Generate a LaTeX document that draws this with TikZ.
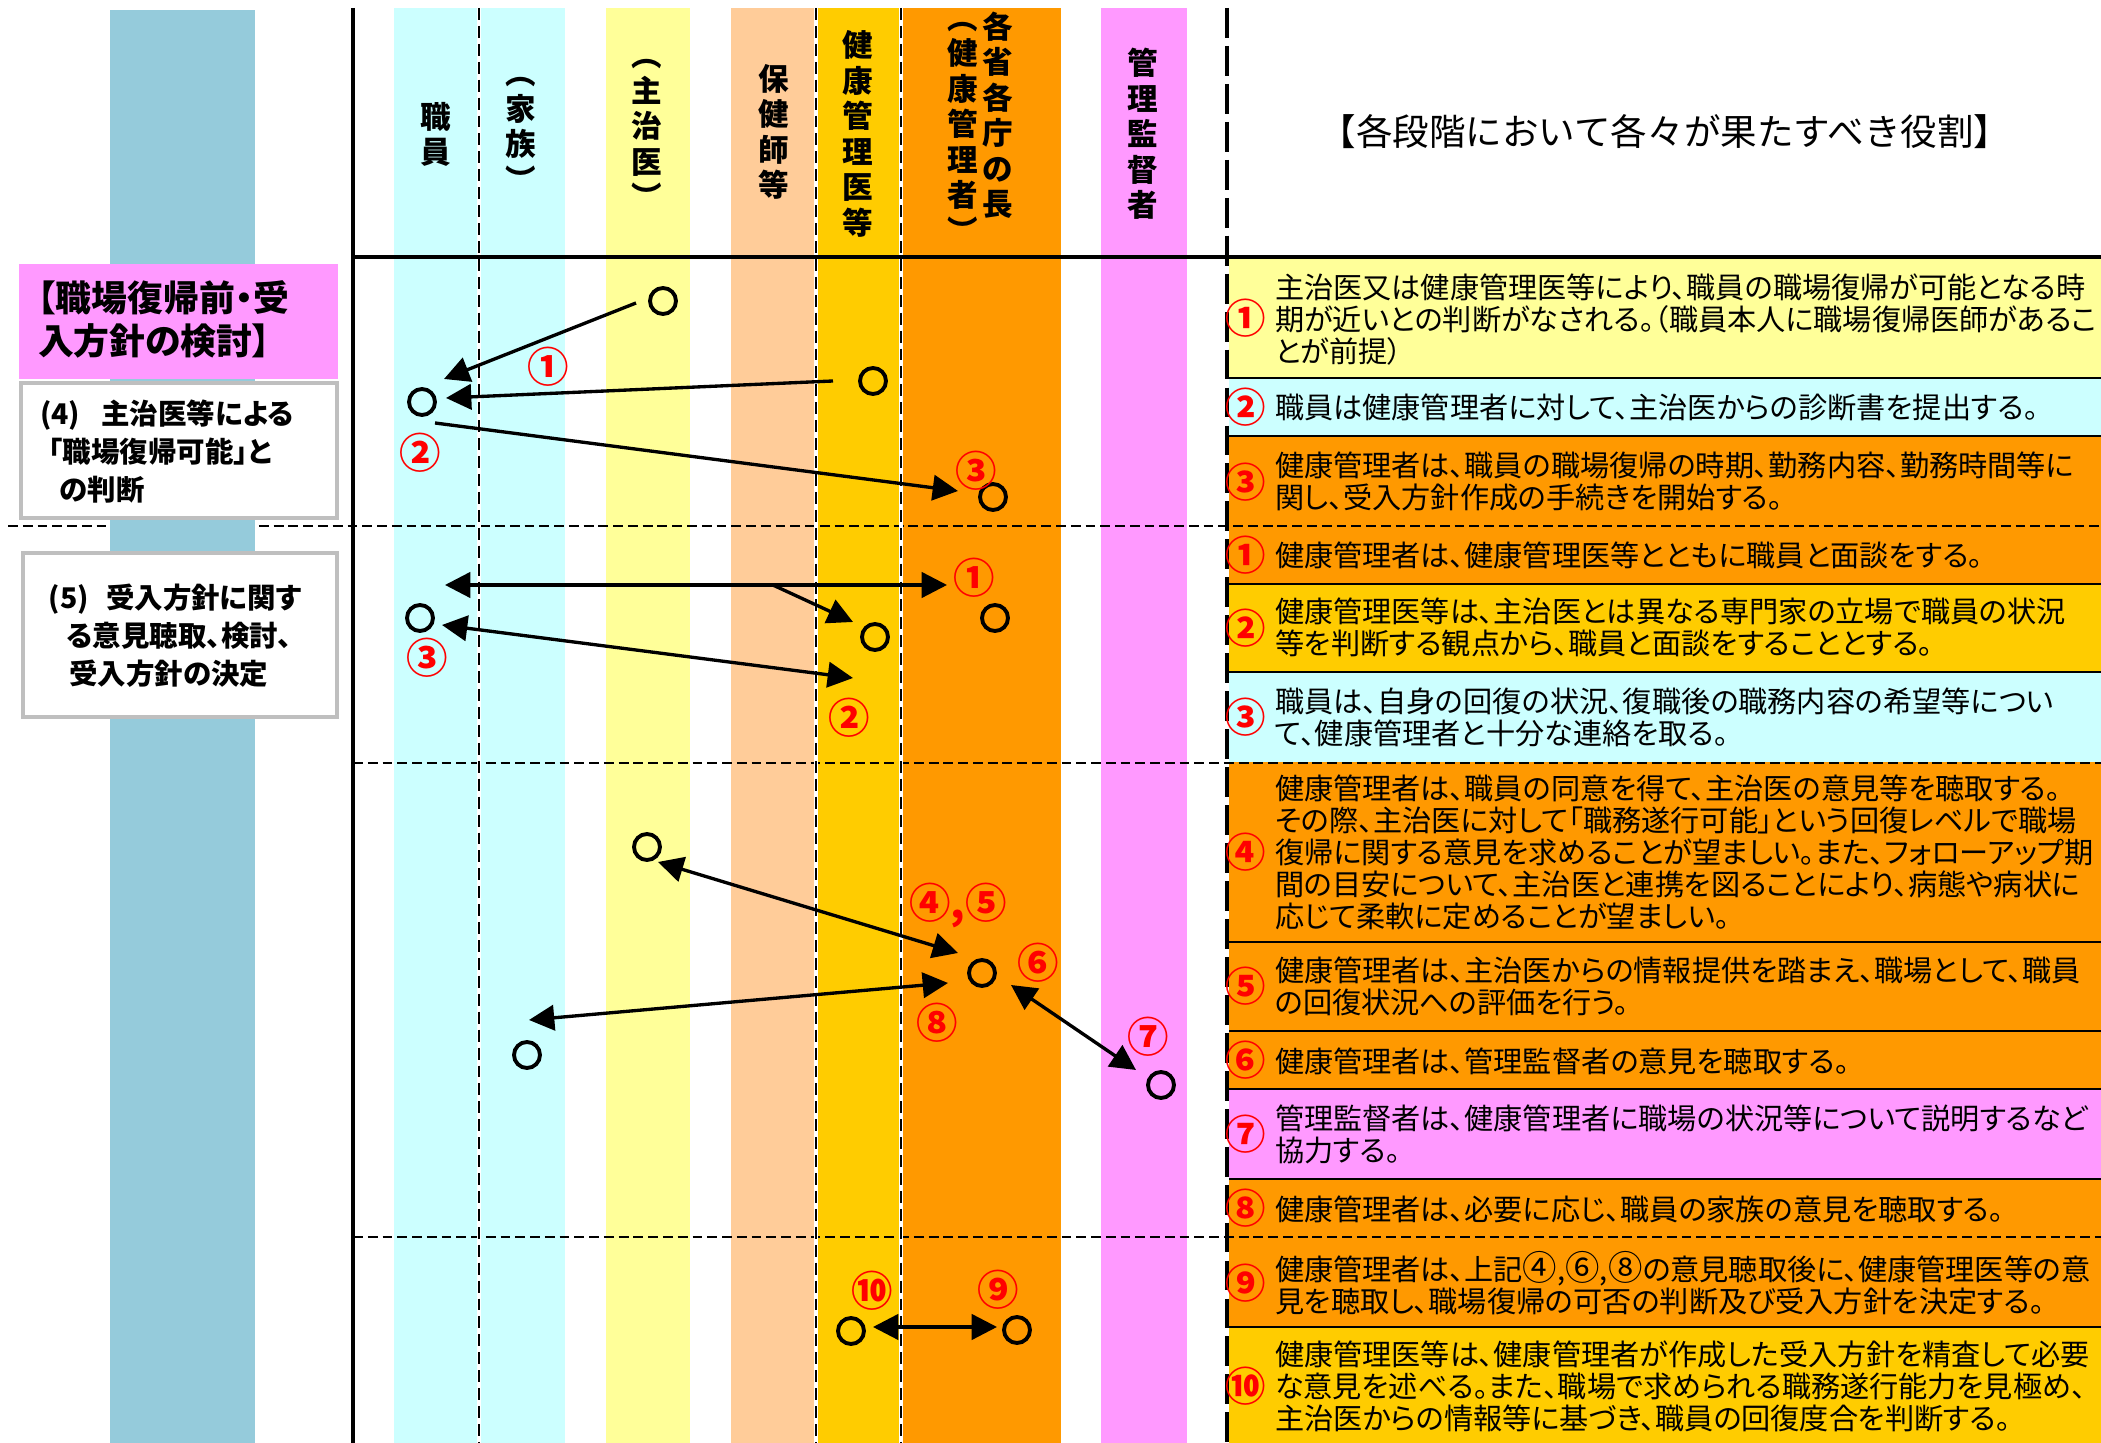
\documentclass[tikz,border=0pt]{standalone}
\usepackage{fontspec}
\setmainfont{Noto Sans CJK JP}
\newfontfamily\jpp[RawFeature=+palt]{Noto Sans CJK JP}
\usetikzlibrary{arrows.meta}
\definecolor{cyanc}{HTML}{CCFFFF}
\definecolor{yellowc}{HTML}{FFFF99}
\definecolor{peachc}{HTML}{FFCC99}
\definecolor{goldc}{HTML}{FFCC00}
\definecolor{orangec}{HTML}{FF9900}
\definecolor{pinkc}{HTML}{FF99FF}
\definecolor{bluec}{HTML}{95CBDB}
\definecolor{grayc}{HTML}{BFBFBF}
\newcommand\cnum[1]{{\fontsize{9.8pt}{9.1pt}\selectfont #1}}
\begin{document}
\begin{tikzpicture}[x=0.1mm,y=-0.1mm,
  every node/.style={inner sep=0pt,outer sep=0pt},
  circ/.style={circle,draw=black,line width=1.1pt,minimum size=2.6mm,inner sep=0pt},
  arr/.style={line width=0.95pt,-{Triangle[length=7.2pt,width=7.2pt]}},
  dbl/.style={line width=0.95pt,{Triangle[length=7.2pt,width=7.2pt]}-{Triangle[length=7.2pt,width=7.2pt]}},
  lab/.style={text=red,font=\bfseries\fontsize{11.8pt}{11.8pt}\selectfont},
  vhead/.style={align=center,font=\bfseries\fontsize{8.7pt}{10.1pt}\selectfont},
  rtext/.style={anchor=west,align=left,font=\jpp\fontsize{8.3pt}{9.1pt}\selectfont},
  rnum/.style={text=red,font=\bfseries\fontsize{11.5pt}{11.5pt}\selectfont},
  boxtext/.style={anchor=west,align=left,font=\jpp\bfseries\fontsize{8.1pt}{10.8pt}\selectfont},
  hdash/.style={line width=0.8pt,dash pattern=on 2.8pt off 1.4pt},
  vdash/.style={line width=0.85pt,dash pattern=on 3.4pt off 1.7pt},
  rowline/.style={line width=0.4pt},
  graybox/.style={draw=grayc,line width=1pt,fill=white}]
\fill[white] (0,0) rectangle (2101,1443);
\useasboundingbox (0,0) rectangle (2101,1443);
% columns
\fill[cyanc] (394,8) rectangle (565,1443);
\fill[yellowc] (606,8) rectangle (690,1443);
\fill[peachc] (731,8) rectangle (816,1443);
\fill[goldc] (816,8) rectangle (901,1443);
\fill[orangec] (901,8) rectangle (1061,1443);
\fill[pinkc] (1101,8) rectangle (1187,1443);
% right panel rows
\fill[yellowc] (1229,257) rectangle (2101,378);
\fill[cyanc] (1229,378) rectangle (2101,436);
\fill[orangec] (1229,436) rectangle (2101,527);
\fill[orangec] (1229,527) rectangle (2101,584);
\fill[goldc] (1229,584) rectangle (2101,672);
\fill[cyanc] (1229,672) rectangle (2101,762);
\fill[orangec] (1229,762) rectangle (2101,942);
\fill[orangec] (1229,942) rectangle (2101,1031);
\fill[orangec] (1229,1031) rectangle (2101,1089);
\fill[pinkc] (1229,1089) rectangle (2101,1179);
\fill[orangec] (1229,1179) rectangle (2101,1237);
\fill[orangec] (1229,1237) rectangle (2101,1327);
\fill[goldc] (1229,1327) rectangle (2101,1443);
\foreach \yy in {378,436,584,672,942,1031,1089,1179,1327}
  \draw[rowline] (1229,\yy) -- (2101,\yy);
% horizontal dashed section lines
\draw[hdash] (8,526) -- (2101,526);
\draw[hdash] (353,763) -- (2101,763);
\draw[hdash] (353,1237) -- (2101,1237);
% left bar and boxes
\fill[bluec] (110,10) rectangle (255,1443);
\fill[pinkc] (19,264) rectangle (338,379);
\draw[graybox] (21,383) rectangle (337,518);
\draw[graybox] (23,553) rectangle (337,717);
\node[boxtext,font=\jpp\bfseries\fontsize{10.2pt}{12.2pt}\selectfont] (pk) at (38,319.5) {【職場復帰前・受\\入方針の検討】};
\node[boxtext] (b4) at (40,452) {(4)\hspace{0.75em}主治医等による\\\hspace*{0.3em}「職場復帰可能」と\\\hspace*{0.7em}の判断};
\node[boxtext] (b5) at (49,636) {(5)\hspace{0.6em}受入方針に関す\\\hspace*{0.62em}る意見聴取、検討、\\\hspace*{0.72em}受入方針の決定};
% vertical lines
\foreach \xx in {479,816,901} {
  \draw[white,line width=1.2pt] (\xx,8) -- (\xx,1443);
  \draw[vdash] (\xx,8) -- (\xx,1443);
}
\draw[line width=1.3pt] (353,8) -- (353,1443);
\draw[line width=1.3pt,dash pattern=on 8.5pt off 2.3pt] (1227,8) -- (1227,1443);
\draw[line width=1.3pt] (353,257) -- (2101,257);
% column headers
\node[vhead] (hA) at (436,134.5) {職\\員};
\node[vhead] (hB) at (521,134.5) {︵\\家\\族\\︶};
\node[vhead] (hC) at (647,134) {︵\\主\\治\\医\\︶};
\node[vhead] (hD) at (774,132) {保\\健\\師\\等};
\node[vhead] (hE) at (858,134) {健\\康\\管\\理\\医\\等};
\node[vhead] (hF) at (998,115) {各\\省\\各\\庁\\の\\長};
\node[vhead] (hG) at (963,132) {︵\\健\\康\\管\\理\\者\\︶};
\node[vhead] (hH) at (1143,134) {管\\理\\監\\督\\者};
\node[font=\fontsize{10.4pt}{10.4pt}\selectfont] (title) at (1665,132) {【各段階において各々が果たすべき役割】};
% right panel texts
\node[rnum] (n1) at (1246,318) {①};
\node[rtext] (t1) at (1275,320) {主治医又は健康管理医等により、職員の職場復帰が可能となる時\\期が近いとの判断がなされる。（職員本人に職場復帰医師があるこ\\とが前提）};
\node[rnum] (n2) at (1246,407) {②};
\node[rtext] (t2) at (1275,407) {職員は健康管理者に対して、主治医からの診断書を提出する。};
\node[rnum] (n3) at (1246,482) {③};
\node[rtext] (t3) at (1275,481.5) {健康管理者は、職員の職場復帰の時期、勤務内容、勤務時間等に\\関し、受入方針作成の手続きを開始する。};
\node[rnum] (n4) at (1246,555) {①};
\node[rtext] (t4) at (1275,555) {健康管理者は、健康管理医等とともに職員と面談をする。};
\node[rnum] (n5) at (1246,628) {②};
\node[rtext] (t5) at (1275,627) {健康管理医等は、主治医とは異なる専門家の立場で職員の状況\\等を判断する観点から、職員と面談をすることとする。};
\node[rnum] (n6) at (1246,717) {③};
\node[rtext] (t6) at (1275,717) {職員は、自身の回復の状況、復職後の職務内容の希望等につい\\て、健康管理者と十分な連絡を取る。};
\node[rnum] (n7) at (1246,852) {④};
\node[rtext] (t7) at (1275,852) {健康管理者は、職員の同意を得て、主治医の意見等を聴取する。\\その際、主治医に対して「職務遂行可能」という回復レベルで職場\\復帰に関する意見を求めることが望ましい。また、フォローアップ期\\間の目安について、主治医と連携を図ることにより、病態や病状に\\応じて柔軟に定めることが望ましい。};
\node[rnum] (n8) at (1246,986) {⑤};
\node[rtext] (t8) at (1275,986) {健康管理者は、主治医からの情報提供を踏まえ、職場として、職員\\の回復状況への評価を行う。};
\node[rnum] (n9) at (1246,1060) {⑥};
\node[rtext] (t9) at (1275,1061) {健康管理者は、管理監督者の意見を聴取する。};
\node[rnum] (n10) at (1246,1134) {⑦};
\node[rtext] (t10) at (1275,1134) {管理監督者は、健康管理者に職場の状況等について説明するなど\\協力する。};
\node[rnum] (n11) at (1246,1208) {⑧};
\node[rtext] (t11) at (1275,1209) {健康管理者は、必要に応じ、職員の家族の意見を聴取する。};
\node[rnum] (n12) at (1246,1283) {⑨};
\node[rtext] (t12) at (1275,1283) {健康管理者は、上記\cnum{④},\cnum{⑥},\cnum{⑧}の意見聴取後に、健康管理医等の意\\見を聴取し、職場復帰の可否の判断及び受入方針を決定する。};
\node[rnum] (n13) at (1246,1386) {⑩};
\node[rtext] (t13) at (1275,1386) {健康管理医等は、健康管理者が作成した受入方針を精査して必要\\な意見を述べる。また、職場で求められる職務遂行能力を見極め、\\主治医からの情報等に基づき、職員の回復度合を判断する。};
% circles
\node[circ] (c1) at (663,301) {};
\node[circ] (c2) at (422,402) {};
\node[circ] (c3) at (873,381) {};
\node[circ] (c4) at (993,497) {};
\node[circ] (c5) at (420,618) {};
\node[circ] (c6) at (875,637) {};
\node[circ] (c7) at (995,618) {};
\node[circ] (c8) at (647,847) {};
\node[circ] (c9) at (982,973) {};
\node[circ] (c10) at (527,1055) {};
\node[circ] (c11) at (1161,1085) {};
\node[circ] (c12) at (851,1331) {};
\node[circ] (c13) at (1017,1330) {};
% arrows
\draw[arr] ([shift={(-27,2)}]c1.center) -- ([shift={(22,-23)}]c2.center);
\draw[arr] ([shift={(-40,0)}]c3.center) -- ([shift={(24,-4)}]c2.center);
\draw[arr] ([shift={(13,21)}]c2.center) -- ([shift={(-35,-6)}]c4.center);
\draw[dbl] ([shift={(25,-33)}]c5.center) -- coordinate[pos=0.653] (br) ([shift={(-48,-33)}]c7.center);
\draw[arr] (br) -- ([shift={(-22,-15)}]c6.center);
\draw[dbl] ([shift={(22,7)}]c5.center) -- ([shift={(-22,41)}]c6.center);
\draw[dbl] ([shift={(11,15)}]c8.center) -- ([shift={(-24,-20)}]c9.center);
\draw[dbl] ([shift={(2,-35)}]c10.center) -- ([shift={(-34,10)}]c9.center);
\draw[dbl] ([shift={(29,12)}]c9.center) -- ([shift={(-25,-15)}]c11.center);
\draw[dbl] ([shift={(22,-4)}]c12.center) -- ([shift={(-20,-3)}]c13.center);
% labels
\node[lab] (l1) at (548,367) {①};
\node[lab] (l2) at (420,453) {②};
\node[lab] (l3) at (976,471) {③};
\node[lab] (l4) at (974,578) {①};
\node[lab] (l5) at (427,658) {③};
\node[lab] (l6) at (849,718) {②};
\node[lab] (l7) at (958,905) {④,⑤};
\node[lab] (l8) at (1038,963) {⑥};
\node[lab] (l9) at (937,1023) {⑧};
\node[lab] (l10) at (1148,1037) {⑦};
\node[lab] (l11) at (872,1291) {⑩};
\node[lab] (l12) at (998,1290) {⑨};
\end{tikzpicture}
\end{document}
